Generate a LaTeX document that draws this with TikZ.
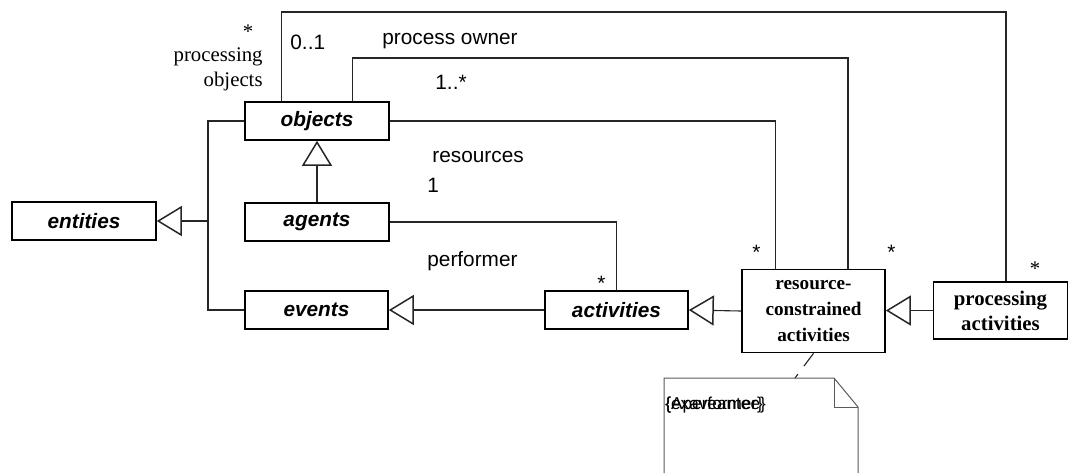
\documentclass[tikz,border=0pt]{standalone}
\usepackage{fontspec}
\setmainfont{Liberation Sans}
\newfontfamily\serifface{Liberation Serif}
\usetikzlibrary{positioning,calc}
\usetikzlibrary{arrows.meta}
\definecolor{NoteGray}{RGB}{90,90,90}
\tikzset{
  cls/.style={draw=black,line width=0.8pt,inner sep=0pt,minimum width=72pt,
    minimum height=19pt,font=\fontsize{10.4}{12}\selectfont\bfseries\itshape},
  kls/.style={draw=black,line width=0.8pt,inner sep=0pt,align=center,
    font=\fontsize{9.6}{13}\selectfont\serifface\bfseries},
  assoc/.style={draw=black!85,line width=0.55pt},
  gen/.style={assoc,-{Triangle[open,length=12.5pt,width=15pt,line width=0.75pt]}},
  lbl/.style={inner sep=0pt,anchor=west,font=\fontsize{10.4}{12}\selectfont},
  slbl/.style={inner sep=0pt,font=\fontsize{10.4}{12}\selectfont\serifface},
}

\begin{document}
\begin{tikzpicture}[x=0.5pt,y=-0.5pt]
  \useasboundingbox (0,0) rectangle (1068,473);
  % classes
  \node[cls,minimum width=72pt] (entities) at (84,221) {entities};
  \node[cls] (objects) at (317,121) {objects};
  \node[cls] (agents) at (317,222) {agents};
  \node[cls,minimum width=71.5pt] (events) at (316.5,310) {events};
  \node[cls,minimum width=71.5pt] (activities) at (616.5,310) {activities};
  \node[kls,minimum width=71.5pt,minimum height=41.5pt] (rca) at (813.5,311)
    {resource-\\constrained\\activities};
  \node[kls,minimum width=67pt,minimum height=28.5pt,
    font=\fontsize{10.4}{12.5}\selectfont\serifface\bfseries] (proc) at (1000.5,310.5)
    {processing\\activities};
  % generalizations
  \coordinate (junc) at (208,221);
  \draw[assoc] (objects.west) -| (junc);
  \draw[assoc] (events.west) -| (junc);
  \draw[gen] (junc) -- (entities.east);
  \draw[gen] (agents.north) -- (objects.south);
  \draw[gen] (activities.west) -- (events.east);
  \draw[gen] (rca.west) -- (activities.east);
  \draw[gen] (proc.west) -- ($(rca.east)+(0,-0.5)$);
  % associations
  \coordinate (pobj) at (1006,12);
  \coordinate (pown) at (848,58);
  \draw[assoc] ($(objects.north west)+(37.5,0)$) |- (pobj) -- (pobj |- proc.north);
  \draw[assoc] ($(objects.north west)+(108.5,0)$) |- (pown) -- (pown |- rca.north);
  \draw[assoc] (objects.east) -| ($(rca.north west)+(34,0)$);
  \draw[assoc] (agents.east) -| (activities.north);
  % association labels
  \node[lbl] (l01) at (290,42) {0..1};
  \node[lbl] (lowner) at (382,41) {process owner};
  \node[lbl] (l1n) at (435,82) {1..*};
  \node[lbl] (lres) at (432,157) {resources};
  \node[lbl] (l1) at (427,185) {1};
  \node[lbl] (lperf) at (427,261) {performer};
  \node[lbl] (sact) at (597,283) {*};
  \node[lbl] (sres) at (752,252) {*};
  \node[lbl] (sown) at (887,252) {*};
  \node[slbl] (sproc) at (1035,269) {*};
  \node[slbl] (sobj) at (248,32) {*};
  \node[slbl,anchor=east,align=right,font=\fontsize{10.4}{12.5}\selectfont\serifface]
    (lpobj) at (263,69) {processing\\objects};
  % constraint note
  \coordinate (ntop) at (795,378);
  \draw[assoc,dashed,dash pattern=on 8pt off 5pt] (rca.south) -- (ntop);
  \draw[draw=NoteGray,line width=0.5pt]
    (664,473) -- (664,378) -- (834,378) -- (858,407) -- (858,473);
  \draw[draw=NoteGray,line width=0.5pt] (834,378) -- (834,407) -- (858,407);
  \node[lbl,font=\fontsize{8.6}{10}\selectfont] (ntxt1) at (665,405) {\{Aperformer\}};
  \node[lbl,font=\fontsize{8.6}{10}\selectfont] (ntxt2) at (665,405) {\{exaveantee\}};
\end{tikzpicture}
\end{document}
